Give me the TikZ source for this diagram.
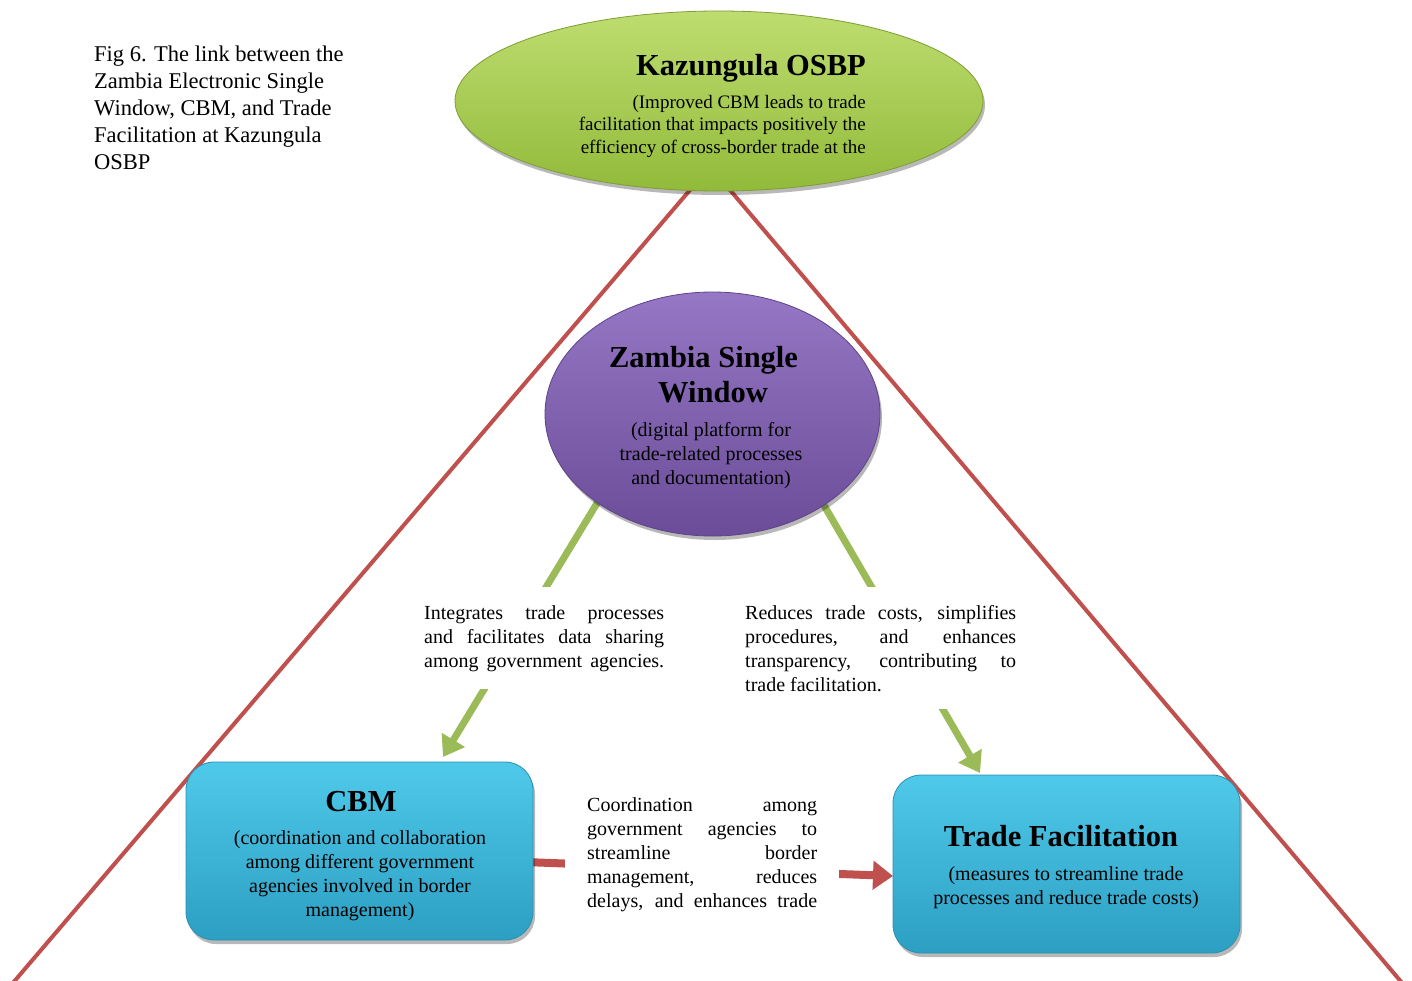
\documentclass[tikz,border=0pt]{standalone}
\usepackage{fontspec}
\setmainfont{Liberation Serif}
\usetikzlibrary{shapes.geometric,shadows,arrows.meta}
\definecolor{redl}{HTML}{C0504D}
\definecolor{grnl}{HTML}{9BBB59}
\definecolor{gtop}{HTML}{BEDD70}
\definecolor{gbot}{HTML}{92BA3A}
\definecolor{gbrd}{HTML}{7E9E33}
\definecolor{ptop}{HTML}{9577C5}
\definecolor{pbot}{HTML}{6A4C98}
\definecolor{pbrd}{HTML}{5F4389}
\definecolor{ctop}{HTML}{4FC9EA}
\definecolor{cbot}{HTML}{2C9FC2}
\definecolor{cbrd}{HTML}{2A90B0}
\newcommand\blkc[2]{\vtop{\baselineskip=#1\lineskiplimit=-1000pt\lineskip=0pt\halign{\hfil##\hfil\cr#2\crcr}}}
\newcommand\blkl[2]{\vtop{\baselineskip=#1\lineskiplimit=-1000pt\lineskip=0pt\halign{##\hfil\cr#2\crcr}}}
\newcommand\blkr[2]{\vtop{\baselineskip=#1\lineskiplimit=-1000pt\lineskip=0pt\halign{\hfil##\cr#2\crcr}}}
\newcommand\jst[2]{\hbox to #1{#2}}
\begin{document}
\begin{tikzpicture}[x=1pt,y=-1pt,
  redln/.style={draw=redl, line width=4pt},
  grnln/.style={draw=grnl, line width=7pt, -{Triangle[width=26pt,length=20pt]}},
  redarr/.style={draw=redl, line width=8pt, -{Triangle[width=28pt,length=20pt]}},
  shad/.style={drop shadow={shadow xshift=2pt,shadow yshift=-4pt,opacity=.28,fill=black}},
  greenell/.style={ellipse, inner sep=0, minimum width=528pt, minimum height=180pt, top color=gtop, bottom color=gbot, draw=gbrd, line width=0.8pt, shad},
  purpell/.style={ellipse, inner sep=0, minimum width=335pt, minimum height=244pt, top color=ptop, bottom color=pbot, draw=pbrd, line width=0.8pt, shad},
  cyanbox/.style={rectangle, rounded corners=28pt, inner sep=0, minimum width=347pt, minimum height=178pt, top color=ctop, bottom color=cbot, draw=cbrd, line width=0.8pt, shad},
  txt/.style={inner sep=0, text=black},
  ttl/.style={txt, font=\fontsize{30.5}{36}\selectfont\bfseries},
  bdy/.style={txt, font=\fontsize{20}{24}\selectfont},
  midtxt/.style={bdy, fill=white, inner xsep=6pt, inner ysep=18pt},
]
\useasboundingbox (0,0) rectangle (1412,980);
\fill[white] (0,0) rectangle (1412,980);

% caption
\node[txt, anchor=base west, font=\fontsize{22.5}{27}\selectfont] (cap) at (94,61)
  {\blkl{27pt}{Fig 6. The link between the\cr Zambia Electronic Single\cr Window, CBM, and Trade\cr Facilitation at Kazungula\cr OSBP}};

% coordinates for connectors
\coordinate (la) at (698.5,180);
\coordinate (lb) at (12,984);
\coordinate (ra) at (721.5,180);
\coordinate (rb) at (1403,984);
\coordinate (g1a) at (602,495);
\coordinate (g1b) at (443,757);
\coordinate (g2a) at (818,495);
\coordinate (g2b) at (980,773);
\coordinate (r1a) at (525,862);
\coordinate (r1b) at (893,876);

% red triangle lines
\draw[redln] (la) -- (lb);
\draw[redln] (ra) -- (rb);
% green arrows
\draw[grnln] (g1a) -- (g1b);
\draw[grnln] (g2a) -- (g2b);
% red arrow
\draw[redarr] (r1a) -- (r1b);

% middle texts with white background
\node[midtxt, anchor=base west] (lt) at (418,619)
  {\blkl{24pt}{\jst{240pt}{Integrates trade processes}\cr\jst{240pt}{and facilitates data sharing}\cr\jst{240pt}{among government agencies.}}};
\node[midtxt, anchor=base west] (rt) at (739,619)
  {\blkl{24pt}{\jst{271pt}{Reduces trade costs, simplifies}\cr\jst{271pt}{procedures, and enhances}\cr\jst{271pt}{transparency, contributing to}\cr trade facilitation.}};
\node[midtxt, inner xsep=22pt, inner ysep=10pt, anchor=base west] (mt) at (565,811)
  {\blkl{24pt}{\jst{230pt}{Coordination among}\cr\jst{230pt}{government agencies to}\cr\jst{230pt}{streamline border}\cr\jst{230pt}{management, reduces}\cr\jst{230pt}{delays, and enhances trade}}};

% shapes
\node[greenell] (osbp) at (719,101) {};
\node[purpell] (zsw) at (712.5,414) {};
\node[cyanbox] (cbm) at (359.5,851) {};
\node[cyanbox] (tf) at (1066.5,864) {};

% texts in shapes
\node[ttl, anchor=base east] (osbpT) at (866,75) {Kazungula OSBP};
\node[txt, anchor=base east, font=\fontsize{19}{22}\selectfont] (osbpB) at (866,108)
  {\blkr{22.5pt}{(Improved CBM leads to trade\cr facilitation that impacts positively the\cr efficiency of cross-border trade at the}};

\node[ttl, anchor=base] (zswT1) at (703.5,367) {Zambia Single};
\node[ttl, anchor=base] (zswT2) at (713,402) {Window};
\node[bdy, anchor=base] (zswB) at (711,436)
  {\blkc{24pt}{(digital platform for\cr trade-related processes\cr and documentation)}};

\node[ttl, anchor=base] (cbmT) at (361,811) {CBM};
\node[bdy, anchor=base] (cbmB) at (360,844)
  {\blkc{24pt}{(coordination and collaboration\cr among different government\cr agencies involved in border\cr management)}};

\node[ttl, anchor=base] (tfT) at (1061,846) {Trade Facilitation};
\node[bdy, anchor=base] (tfB) at (1066,880)
  {\blkc{24pt}{(measures to streamline trade\cr processes and reduce trade costs)}};
\end{tikzpicture}
\end{document}
